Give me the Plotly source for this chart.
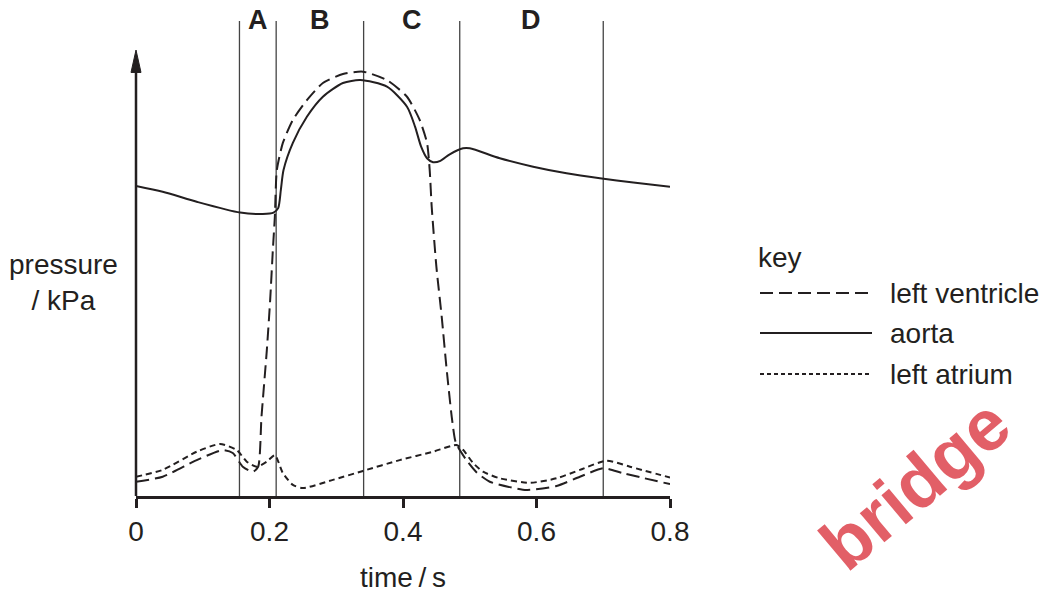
import plotly.graph_objects as go

# ---------------- data ----------------
t_vent = [0.0, 0.040, 0.091, 0.130, 0.145, 0.160, 0.175, 0.183, 0.188, 0.196, 0.201, 0.205,
          0.208, 0.211, 0.220, 0.235, 0.256, 0.280, 0.310, 0.340, 0.376, 0.406, 0.425, 0.436,
          0.440, 0.443, 0.450, 0.458, 0.465, 0.473, 0.478, 0.482, 0.495, 0.510, 0.530, 0.585,
          0.630, 0.665, 0.700, 0.730, 0.800]
p_vent = [0.54, 0.73, 1.36, 1.74, 1.63, 1.11, 0.92, 1.11, 3.00, 5.53, 7.43, 9.32,
          10.58, 12.35, 13.38, 14.25, 15.00, 15.65, 15.99, 16.08, 15.76, 15.13, 14.25, 13.38,
          12.35, 10.96, 8.69, 6.79, 4.90, 3.00, 2.12, 1.87, 1.36, 0.90, 0.54, 0.23,
          0.38, 0.73, 1.05, 0.86, 0.45]

t_aorta = [0.0, 0.040, 0.091, 0.156, 0.190, 0.206, 0.213, 0.217, 0.221, 0.235, 0.256, 0.280,
           0.310, 0.336, 0.376, 0.406, 0.418, 0.427, 0.436, 0.445, 0.456, 0.470, 0.490, 0.500,
           0.545, 0.595, 0.645, 0.695, 0.745, 0.800]
p_aorta = [11.75, 11.53, 11.15, 10.74, 10.69, 10.74, 10.91, 11.60, 12.35, 13.38, 14.37, 15.13,
           15.65, 15.76, 15.51, 14.75, 14.00, 13.25, 12.80, 12.65, 12.70, 12.95, 13.18, 13.18,
           12.80, 12.48, 12.23, 12.04, 11.88, 11.72]

t_atr = [0.0, 0.040, 0.091, 0.126, 0.151, 0.166, 0.181, 0.196, 0.208, 0.220, 0.235, 0.250,
         0.295, 0.340, 0.395, 0.445, 0.480, 0.490, 0.505, 0.520, 0.545, 0.590, 0.630, 0.665,
         0.705, 0.740, 0.800]
p_atr = [0.73, 0.99, 1.68, 1.97, 1.74, 1.30, 1.11, 1.30, 1.55, 0.87, 0.42, 0.30,
         0.61, 0.95, 1.36, 1.68, 1.93, 1.75, 1.25, 0.92, 0.67, 0.50, 0.67, 0.99,
         1.34, 1.11, 0.70]

phase_bounds = [0.155, 0.21, 0.341, 0.485, 0.70]
phase_labels = ["A", "B", "C", "D"]

x_ticks = [0, 0.2, 0.4, 0.6, 0.8]
x_ticktext = ["0", "0.2", "0.4", "0.6", "0.8"]

legend_names = ["left ventricle", "aorta", "left atrium"]

# ---------------- styling ----------------
INK = "#231f20"
FONT = "Liberation Sans, Arial, sans-serif"
Y_MAX = 18.0
ARROW_TIP = 16.9
FS = 28

W, H = 1045, 595
ML, MT = 136, 21
PW, PH = 534, 475
MR, MB = W - ML - PW, H - MT - PH

def px_x(px):   # screen pixel -> paper x
    return (px - ML) / PW

def px_y(py):   # screen pixel -> paper y
    return (MT + PH - py) / PH

vent_dash = "13px,6px"
atr_dash = "6px,4px"

fig = go.Figure()
fig.add_trace(go.Scatter(x=t_vent, y=p_vent, mode="lines", name=legend_names[0],
                         line=dict(color=INK, width=2, dash=vent_dash, shape="spline", smoothing=0.6),
                         showlegend=False, hoverinfo="skip"))
fig.add_trace(go.Scatter(x=t_aorta, y=p_aorta, mode="lines", name=legend_names[1],
                         line=dict(color=INK, width=2, shape="spline", smoothing=0.7),
                         showlegend=False, hoverinfo="skip"))
fig.add_trace(go.Scatter(x=t_atr, y=p_atr, mode="lines", name=legend_names[2],
                         line=dict(color=INK, width=2, dash=atr_dash, shape="spline", smoothing=0.6),
                         showlegend=False, hoverinfo="skip"))

shapes = []
for b in phase_bounds:
    shapes.append(dict(type="line", xref="x", yref="y", x0=b, x1=b, y0=0, y1=Y_MAX,
                       line=dict(color="#444444", width=1.3), layer="below"))
shapes.append(dict(type="line", xref="paper", yref="y", x0=0, x1=0, y0=0, y1=ARROW_TIP - 0.5,
                   line=dict(color=INK, width=2.5)))
shapes.append(dict(type="path", xref="paper", yref="y",
                   path=f"M {-5/PW} {ARROW_TIP-0.85} L 0 {ARROW_TIP} L {5/PW} {ARROW_TIP-0.85} Z",
                   fillcolor=INK, line=dict(color=INK, width=1)))

annotations = []
for i, lab in enumerate(phase_labels):
    mid = (phase_bounds[i] + phase_bounds[i + 1]) / 2
    annotations.append(dict(x=mid, xref="x", y=px_y(20), yref="paper", text=f"<b>{lab}</b>",
                            showarrow=False, yanchor="middle",
                            font=dict(family=FONT, size=27, color=INK)))

annotations.append(dict(x=px_x(63), xref="paper", y=px_y(282), yref="paper",
                        text="pressure<br>/ kPa", showarrow=False, align="center",
                        xanchor="center", yanchor="middle",
                        font=dict(family=FONT, size=FS, color=INK)))
annotations.append(dict(x=0.4, xref="x", y=px_y(577), yref="paper",
                        text="time\u2009/\u2009s", showarrow=False, yanchor="middle",
                        font=dict(family=FONT, size=FS, color=INK)))

annotations.append(dict(x=px_x(756), xref="paper", y=px_y(257), yref="paper",
                        text="key", showarrow=False, xanchor="left", yanchor="middle",
                        font=dict(family=FONT, size=FS, color=INK)))
key_rows = [(293, vent_dash, legend_names[0]), (333, "solid", legend_names[1]),
            (374, "4px,3px", legend_names[2])]
for ypx, dash, name in key_rows:
    yp = px_y(ypx)
    shapes.append(dict(type="line", xref="paper", yref="paper",
                       x0=px_x(760), x1=px_x(872), y0=yp, y1=yp,
                       line=dict(color=INK, width=2, dash=dash)))
    annotations.append(dict(x=px_x(888), xref="paper", y=yp, yref="paper",
                            text=name, showarrow=False, xanchor="left", yanchor="middle",
                            font=dict(family=FONT, size=FS, color=INK)))

# watermark fragment
annotations.append(dict(x=px_x(915), xref="paper", y=px_y(484), yref="paper",
                        text="<b>bridge</b>", showarrow=False, textangle=-40,
                        xanchor="center", yanchor="middle",
                        font=dict(family=FONT, size=72, color="rgba(220,60,70,0.82)")))

fig.update_layout(
    width=W, height=H,
    margin=dict(l=ML, r=MR, t=MT, b=MB),
    paper_bgcolor="white", plot_bgcolor="white",
    shapes=shapes, annotations=annotations,
    xaxis=dict(range=[0, 0.8], tickvals=x_ticks, ticktext=x_ticktext,
               showgrid=False, zeroline=False, showline=True, linecolor=INK, linewidth=2.5,
               ticks="outside", ticklen=9, tickwidth=2.5, tickcolor=INK,
               tickfont=dict(family=FONT, size=FS, color=INK)),
    yaxis=dict(range=[0, Y_MAX], showgrid=False, zeroline=False, showline=False,
               showticklabels=False, ticks=""),
)

fig.write_html("out.html", config={"displayModeBar": False},
               post_script="document.body.style.margin='0';document.body.style.overflow='hidden';")
